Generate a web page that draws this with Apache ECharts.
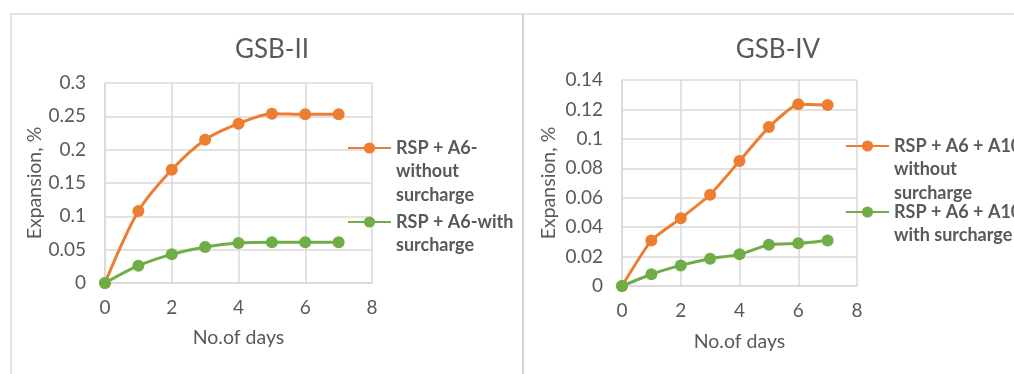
<!DOCTYPE html>
<html>
<head>
<meta charset="utf-8">
<script src="https://cdn.jsdelivr.net/npm/echarts@6/dist/echarts.min.js"></script>
<style>
html,body{margin:0;padding:0;background:#fff;}
#chart{width:1014px;height:374px;}
</style>
</head>
<body>
<div id="chart"></div>
<script>
const days = [0, 1, 2, 3, 4, 5, 6, 7];
const gsb2Without = [0, 0.108, 0.170, 0.215, 0.239, 0.254, 0.253, 0.253];
const gsb2With = [0, 0.026, 0.043, 0.054, 0.060, 0.061, 0.061, 0.061];
const gsb4Without = [0, 0.031, 0.046, 0.062, 0.085, 0.108, 0.1235, 0.123];
const gsb4With = [0, 0.008, 0.014, 0.0185, 0.0215, 0.028, 0.029, 0.031];
const titles = ['GSB-II', 'GSB-IV'];
const seriesNames = [
  'RSP + A6-\nwithout\nsurcharge',
  'RSP + A6-with\nsurcharge',
  'RSP + A6 + A10-\nwithout\nsurcharge',
  'RSP + A6 + A10-\nwith surcharge'
];
const xName = 'No.of days';
const yName = 'Expansion, %';

const ORANGE = '#ED7D31', GREEN = '#70AD47', TXT = '#595959', GRID = '#D9D9D9';
const FONT = 'Lato, "Open Sans", sans-serif';
const LH = 23.5;

function pairs(vals) { return days.map((d, i) => [d, vals[i]]); }

function xAxis(gridIndex, gap) {
  return {
    type: 'value', gridIndex, min: 0, max: 8, interval: 2,
    name: xName, nameLocation: 'middle', nameGap: gap,
    nameTextStyle: { color: TXT, fontSize: 19.5, fontFamily: FONT },
    axisLine: { show: true, lineStyle: { color: GRID, width: 1.5 } },
    axisTick: { show: false },
    axisLabel: { color: TXT, fontSize: 19, fontFamily: FONT, margin: 15 },
    splitLine: { show: true, lineStyle: { color: GRID, width: 1.5 } }
  };
}
function yAxis(gridIndex, max, interval, gap) {
  return {
    type: 'value', gridIndex, min: 0, max, interval,
    name: yName, nameLocation: 'middle', nameGap: gap,
    nameTextStyle: { color: TXT, fontSize: 19.5, fontFamily: FONT },
    axisLine: { show: true, lineStyle: { color: GRID, width: 1.5 } },
    axisTick: { show: false },
    axisLabel: { color: TXT, fontSize: 19, fontFamily: FONT, margin: 19 },
    splitLine: { show: true, lineStyle: { color: GRID, width: 1.5 } }
  };
}
function line(name, vals, color, idx, smooth) {
  return {
    type: 'line', name, data: pairs(vals), xAxisIndex: idx, yAxisIndex: idx,
    symbol: 'circle', symbolSize: 12, smooth,
    lineStyle: { color, width: 3 }, itemStyle: { color },
    emphasis: { disabled: true }, animation: false
  };
}
// iconY: desired y of the legend marker; lines: number of text lines.
// Leading blank lines push the first text line level with the marker.
function legend(name, left, iconY, lines) {
  const box = (2 * lines - 1) * LH;
  return {
    data: [name], left, top: iconY - box / 2, orient: 'vertical',
    itemWidth: 43, itemHeight: 14, itemGap: 0, padding: 0,
    formatter: n => '\n'.repeat(lines - 1) + n,
    textStyle: {
      color: TXT, fontSize: 18, fontWeight: 'bold', fontFamily: FONT,
      lineHeight: LH
    },
    selectedMode: false
  };
}

const chart = echarts.init(document.getElementById('chart'), null, { renderer: 'canvas' });
chart.setOption({
  animation: false,
  backgroundColor: '#fff',
  title: [
    { text: titles[0], left: 267, top: 32, textAlign: 'center',
      textStyle: { color: TXT, fontSize: 26, fontWeight: 'normal', fontFamily: FONT } },
    { text: titles[1], left: 773, top: 32, textAlign: 'center',
      textStyle: { color: TXT, fontSize: 26, fontWeight: 'normal', fontFamily: FONT } }
  ],
  grid: [
    { left: 105, top: 83, width: 267, height: 200 },
    { left: 622, top: 80, width: 235, height: 206 }
  ],
  xAxis: [xAxis(0, 45), xAxis(1, 46)],
  yAxis: [yAxis(0, 0.3, 0.05, 58), yAxis(1, 0.14, 0.02, 63)],
  legend: [
    legend(seriesNames[0], 347, 148, 3),
    legend(seriesNames[1], 347, 222, 2),
    legend(seriesNames[2], 845, 146, 3),
    legend(seriesNames[3], 845, 212, 2)
  ],
  series: [
    line(seriesNames[0], gsb2Without, ORANGE, 0, 0.3),
    line(seriesNames[1], gsb2With, GREEN, 0, 0.3),
    line(seriesNames[2], gsb4Without, ORANGE, 1, 0.15),
    line(seriesNames[3], gsb4With, GREEN, 1, 0.15)
  ],
  graphic: [
    { type: 'polyline', silent: true, shape: { points: [[11, 380], [11, 14], [1020, 14]] },
      style: { stroke: '#E3E3E3', lineWidth: 2, fill: null } },
    { type: 'line', silent: true, shape: { x1: 523, y1: 14, x2: 523, y2: 380 },
      style: { stroke: '#D2D2D2', lineWidth: 2 } }
  ]
});
</script>
</body>
</html>
